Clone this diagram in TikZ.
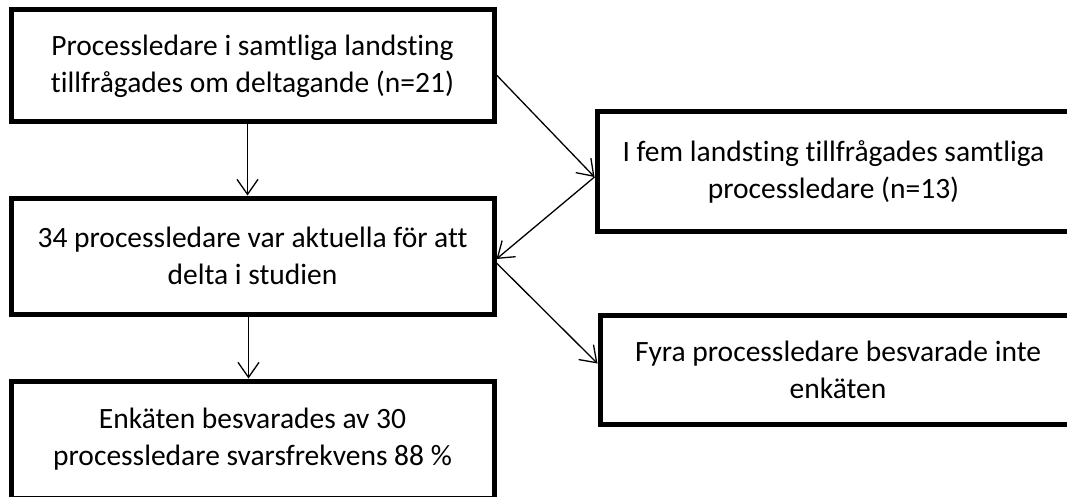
\documentclass[tikz,border=0pt]{standalone}
\usepackage{fontspec}
\setmainfont[Ligatures=NoCommon]{Carlito}
\usetikzlibrary{arrows.meta}
\begin{document}
\begin{tikzpicture}[x=1pt,y=-1pt,
  box/.style={draw=black, line width=5pt, inner sep=0pt, align=center,
    font=\fontsize{29.5}{37}\selectfont},
  conn/.style={draw=black, line width=1.3pt, -{Straight Barb[length=15pt,width=21pt,line width=1.3pt]}}]
\useasboundingbox (0,0) rectangle (1067,497);
\fill[white] (0,0) rectangle (1067,497);
\clip (0,0) rectangle (1067,497);
\node[box, minimum width=483pt, minimum height=112pt] (A) at (252.5,66)
  {Processledare i samtliga landsting\\tillfrågades om deltagande (n=21)};
\node[box, minimum width=473pt, minimum height=120pt] (B) at (833.5,171.5)
  {I fem landsting tillfrågades samtliga\\processledare (n=13)};
\node[box, minimum width=483pt, minimum height=116pt] (C) at (252.5,256)
  {34 processledare var aktuella för att\\delta i studien};
\node[box, minimum width=476pt, minimum height=109pt] (D) at (838,369.5)
  {Fyra processledare besvarade inte\\enkäten};
\node[box, minimum width=483pt, minimum height=117pt] (E) at (252.5,439.5)
  {Enkäten besvarades av 30\\processledare svarsfrekvens 88 \%};
\draw[conn] ([xshift=-5pt]A.south) -- ([xshift=-5pt]C.north);
\draw[conn] ([xshift=-4pt]C.south) -- ([xshift=-4pt]E.north);
\draw[conn] ([yshift=-9pt]A.east) -- ([yshift=-5.5pt]B.west);
\draw[conn] ([yshift=-5.5pt]B.west) -- ([yshift=-3pt]C.east);
\draw[conn] ([yshift=-7pt]C.east) -- ([yshift=6pt]D.west);
\end{tikzpicture}
\end{document}
